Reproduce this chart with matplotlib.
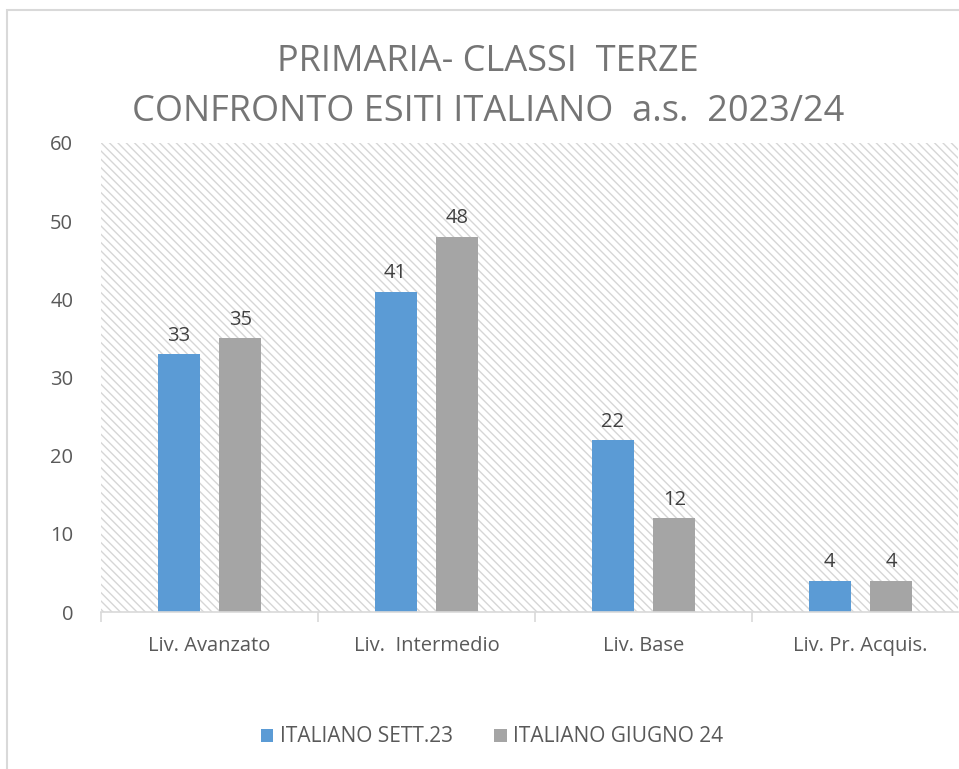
import numpy as np
import matplotlib.pyplot as plt
from matplotlib.patches import Rectangle

categories = ['Liv. Avanzato', 'Liv.  Intermedio', 'Liv. Base', 'Liv. Pr. Acquis.']
sett23 = [33, 41, 22, 4]
giugno24 = [35, 48, 12, 4]
series_names = ['ITALIANO SETT.23', 'ITALIANO GIUGNO 24']

plt.rcParams['font.family'] = ['Open Sans', 'DejaVu Sans']
plt.rcParams['hatch.color'] = '#d6d6d6'
plt.rcParams['hatch.linewidth'] = 1.0

W, H = 959, 769
fig = plt.figure(figsize=(W / 100, H / 100), dpi=100)

# chart border (cropped on right/bottom)
fig.patches.append(Rectangle((7 / W, -0.1), 1.2, 1 - 10 / H + 0.1, transform=fig.transFigure,
                             fill=False, edgecolor='#d9d9d9', linewidth=1.5))

ax = fig.add_axes([101 / W, 1 - 612 / H, (958 - 101) / W, (612 - 143) / H])
ax.set_facecolor('white')
# diagonal pattern fill of the plot area
ax.add_patch(Rectangle((0, 0), 1, 1, transform=ax.transAxes, fill=False,
                       hatch='\\' * 4, edgecolor='#d6d6d6', linewidth=0, zorder=0))

x = np.arange(len(categories))
bw = 0.195
off = 0.142
b1 = ax.bar(x - off, sett23, bw, color='#5b9bd5', label=series_names[0], zorder=2)
b2 = ax.bar(x + off, giugno24, bw, color='#a5a5a5', label=series_names[1], zorder=2)
for bars in (b1, b2):
    ax.bar_label(bars, padding=6, fontsize=14.5, color='#404040')

ax.set_ylim(0, 60)
ax.set_xlim(-0.5, -0.5 + (958 - 101) / 217)
ax.set_yticks(range(0, 61, 10))
ax.tick_params(axis='y', length=0, pad=20, labelsize=14.5, labelcolor='#595959')
for s in ('left', 'right', 'top'):
    ax.spines[s].set_visible(False)
ax.spines['bottom'].set_color('#d9d9d9')
ax.spines['bottom'].set_linewidth(1.2)

ax.set_xticks(x)
ax.set_xticklabels(categories)
ax.tick_params(axis='x', length=0, pad=17, labelsize=14.5, labelcolor='#595959')
ax.set_xticks(np.arange(len(categories)) - 0.5, minor=True)
ax.tick_params(axis='x', which='minor', length=7, color='#d9d9d9', width=1.2)

fig.text(488 / W, 1 - 62 / H, 'PRIMARIA- CLASSI  TERZE', ha='center', va='center',
         fontsize=26, color='#757575')
fig.text(488 / W, 1 - 112 / H, 'CONFRONTO ESITI ITALIANO  a.s.  2023/24', ha='center', va='center',
         fontsize=26, color='#757575')

fig.legend(handles=[b1, b2], loc='center', bbox_to_anchor=(492 / W, 1 - 737 / H), ncol=2,
           frameon=False, fontsize=15, labelcolor='#595959', handlelength=0.6, handleheight=0.6,
           handletextpad=0.3, columnspacing=2.0)

fig.savefig('out.png', dpi=100)
